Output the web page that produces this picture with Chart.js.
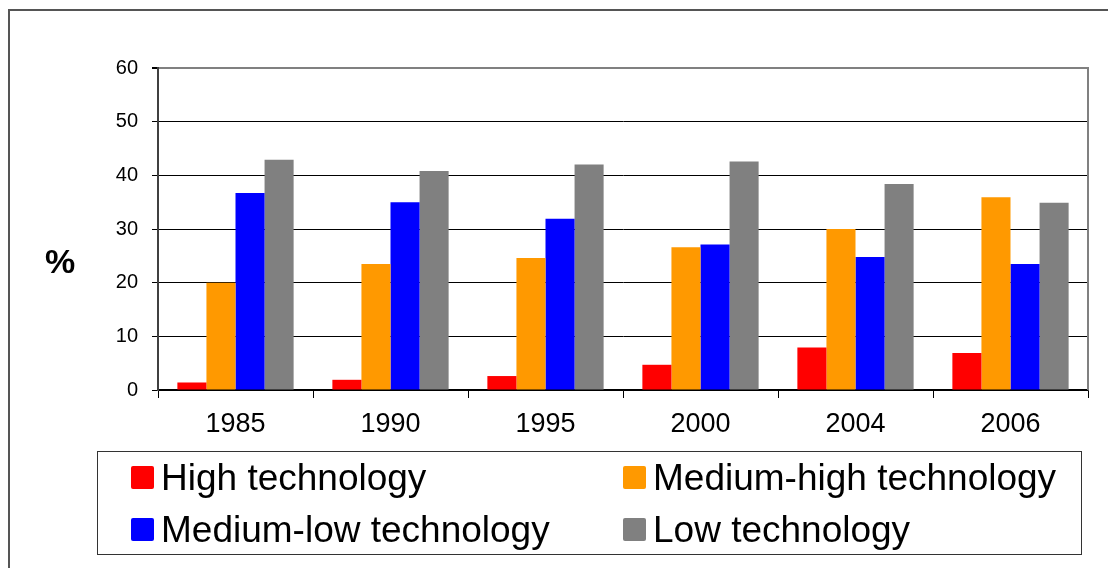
<!DOCTYPE html>
<html>
<head>
<meta charset="utf-8">
<script src="https://cdn.jsdelivr.net/npm/chart.js@4/dist/chart.umd.min.js"></script>
<style>
  html, body { margin: 0; padding: 0; background: #fff; }
  body { width: 1108px; height: 568px; position: relative; overflow: hidden; font-family: "Liberation Sans", Arial, sans-serif; }
  #frame { position: absolute; left: 8px; top: 9px; width: 1200px; height: 700px; border-left: 2px solid #555; border-top: 2px solid #555; box-sizing: border-box; }
  #chart { position: absolute; left: 0; top: 0; }
  #unit { position: absolute; left: 45px; top: 241px; font-size: 34px; font-weight: bold; line-height: 40px; }
  #legend { position: absolute; left: 97px; top: 451px; width: 985px; height: 104px; border: 1px solid #333; box-sizing: border-box; }
  .item { position: absolute; display: flex; align-items: center; font-size: 37px; line-height: 37px; height: 37px; white-space: nowrap; }
  .swatch { width: 23px; height: 23px; border-radius: 2px; margin-right: 7px; }
</style>
</head>
<body>
<div id="frame"></div>
<canvas id="chart" width="1108" height="568"></canvas>
<div id="unit">%</div>
<div id="legend"></div>
<script>
// --- datos ---
const years = ['1985', '1990', '1995', '2000', '2004', '2006'];
const seriesNames = ['High technology', 'Medium-high technology', 'Medium-low technology', 'Low technology'];
const highTech = [1.4, 1.9, 2.6, 4.7, 7.9, 6.9];
const mediumHighTech = [20.0, 23.5, 24.6, 26.6, 30.0, 35.9];
const mediumLowTech = [36.7, 35.0, 31.9, 27.1, 24.8, 23.5];
const lowTech = [42.9, 40.8, 42.0, 42.6, 38.4, 34.9];
const colors = ['#FF0000', '#FF9900', '#0000FF', '#808080'];
const yTicks = [0, 10, 20, 30, 40, 50, 60];

const allSeries = [highTech, mediumHighTech, mediumLowTech, lowTech];

// borde derecho gris del área de trazado
const plotBorder = {
    id: 'plotBorder',
    afterDraw(chart) {
        const a = chart.chartArea;
        const c = chart.ctx;
        c.save();
        c.strokeStyle = '#808080';
        c.lineWidth = 2;
        c.beginPath();
        c.moveTo(a.right, a.top - 1);
        c.lineTo(a.right, a.bottom);
        c.stroke();
        c.restore();
    }
};

const ctx = document.getElementById('chart').getContext('2d');
new Chart(ctx, {
    type: 'bar',
    data: {
        labels: years,
        datasets: allSeries.map((d, i) => ({
            label: seriesNames[i],
            data: d,
            backgroundColor: colors[i],
            borderWidth: 0,
            categoryPercentage: 0.75,
            barPercentage: 1.0
        }))
    },
    options: {
        responsive: false,
        devicePixelRatio: 1,
        animation: false,
        layout: { padding: { top: 68, right: 20, left: 0, bottom: 0 } },
        plugins: {
            legend: { display: false },
            tooltip: { enabled: false }
        },
        scales: {
            x: {
                afterFit: s => { s.height = 178; },
                grid: {
                    offset: true,
                    drawOnChartArea: false,
                    drawTicks: true,
                    tickLength: 8,
                    color: '#000'
                },
                border: { color: '#000', width: 1.5 },
                ticks: {
                    color: '#000',
                    padding: 10,
                    font: { family: 'Liberation Sans, Arial', size: 27 }
                }
            },
            y: {
                min: 0,
                max: 60,
                afterFit: s => { s.width = 158; },
                afterBuildTicks: s => { s.ticks = yTicks.map(v => ({ value: v })); },
                grid: {
                    color: c => c.tick && c.tick.value === 60 ? '#808080' : '#000',
                    lineWidth: c => c.tick && c.tick.value === 60 ? 2 : 1,
                    tickColor: '#000',
                    tickLength: 6
                },
                border: { color: '#404040', width: 2 },
                ticks: {
                    color: '#000',
                    padding: 14,
                    font: { family: 'Liberation Sans, Arial', size: 20 }
                }
            }
        }
    },
    plugins: [plotBorder]
});

// leyenda en dos columnas, como en el original
const legendPos = [[131, 459], [623, 459], [131, 511], [623, 511]];
const legendBox = document.getElementById('legend');
seriesNames.forEach((name, i) => {
    const item = document.createElement('div');
    item.className = 'item';
    item.style.left = (legendPos[i][0] - 97 - 1) + 'px';
    item.style.top = (legendPos[i][1] - 451 - 1) + 'px';
    const sw = document.createElement('span');
    sw.className = 'swatch';
    sw.style.background = colors[i];
    item.appendChild(sw);
    item.appendChild(document.createTextNode(name));
    legendBox.appendChild(item);
});
</script>
</body>
</html>
